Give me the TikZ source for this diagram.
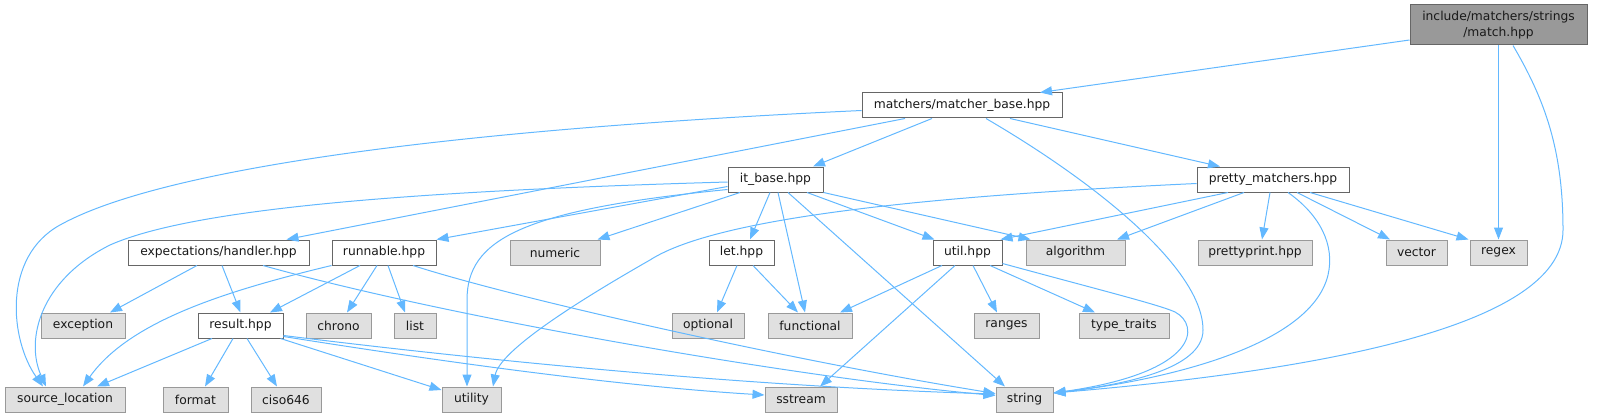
\documentclass[tikz,border=0pt]{standalone}
\usepackage{fontspec}
\setmainfont{DejaVu Sans}
\usetikzlibrary{arrows.meta,calc}
\definecolor{edgeblue}{HTML}{63B8FF}
\definecolor{nodeborder}{HTML}{666666}
\definecolor{sysborder}{HTML}{999999}
\definecolor{sysfill}{HTML}{E0E0E0}
\definecolor{mainfill}{HTML}{999999}
\begin{document}
\begin{tikzpicture}[x=1pt,y=-1pt,
  base/.style={rectangle, minimum height=25pt, inner sep=0pt, font=\fontsize{12.3}{16}\selectfont, line width=1pt, text=black!90},
  loc/.style={base, draw=nodeborder, fill=white},
  sys/.style={base, draw=sysborder, fill=sysfill},
  mainnode/.style={base, draw=nodeborder, fill=mainfill, minimum height=40pt, align=center},
  dep/.style={draw=edgeblue, line width=1pt, -{Triangle[length=12pt,width=9pt]}}]
\path[use as bounding box] (0,0) rectangle (1611,417);
% nodes
\node[mainnode, minimum width=177pt] (match) at (1498.5,25) {include/matchers/strings\\/match.hpp};
\node[loc, minimum width=200pt] (mb) at (962,105.5) {matchers/matcher\_base.hpp};
\node[loc, minimum width=95pt] (itb) at (775.5,179.5) {it\_base.hpp};
\node[loc, minimum width=152pt] (pm) at (1273,179.5) {pretty\_matchers.hpp};
\node[loc, minimum width=181pt] (handler) at (218.5,252.5) {expectations/handler.hpp};
\node[loc, minimum width=104pt] (runnable) at (384,252.5) {runnable.hpp};
\node[sys, minimum width=90pt] (numeric) at (555,252.5) {numeric};
\node[loc, minimum width=65pt] (let) at (741.5,252.5) {let.hpp};
\node[loc, minimum width=69pt] (util) at (967.5,252.5) {util.hpp};
\node[sys, minimum width=99pt] (algorithm) at (1075.5,252.5) {algorithm};
\node[sys, minimum width=114pt] (prettyprint) at (1255,252.5) {prettyprint.hpp};
\node[sys, minimum width=61pt] (vector) at (1416.5,252.5) {vector};
\node[sys, minimum width=57pt] (regex) at (1498.5,252.5) {regex};
\node[sys, minimum width=84pt] (exception) at (83,325.5) {exception};
\node[loc, minimum width=85pt] (result) at (240.5,325.5) {result.hpp};
\node[sys, minimum width=65pt] (chrono) at (338.5,325.5) {chrono};
\node[sys, minimum width=42pt] (list) at (415,325.5) {list};
\node[sys, minimum width=72pt] (optional) at (708,325.5) {optional};
\node[sys, minimum width=84pt] (functional) at (810,325.5) {functional};
\node[sys, minimum width=65pt] (ranges) at (1006.5,325.5) {ranges};
\node[sys, minimum width=90pt] (typetraits) at (1124,325.5) {type\_traits};
\node[sys, minimum width=120pt] (srcloc) at (65,399.5) {source\_location};
\node[sys, minimum width=65pt] (format) at (195.5,399.5) {format};
\node[sys, minimum width=70pt] (ciso) at (286,399.5) {ciso646};
\node[sys, minimum width=59pt] (utility) at (471.5,399.5) {utility};
\node[sys, minimum width=72pt] (sstream) at (801,399.5) {sstream};
\node[sys, minimum width=57pt] (string) at (1024.5,399.5) {string};
% edges from match
\draw[dep] ([yshift=-15pt]match.west) -- ([xshift=78pt]mb.north);
\draw[dep] (match.south) -- (regex.north);
\draw[dep] ([xshift=14.5pt]match.south) .. controls (1545,100) and (1563,150) .. (1563,230) .. controls (1563,330) and (1300,372) .. ([yshift=6.5pt]string.east);
% edges from matcher_base
\draw[dep] ([yshift=-5pt]mb.west) .. controls (400,132) and (150,175) .. (60,225) .. controls (2,257) and (10,340) .. ([xshift=-22pt]srcloc.north);
\draw[dep] ([xshift=-57pt]mb.south) -- ([xshift=68pt]handler.north);
\draw[dep] ([xshift=-30pt]mb.south) -- ([xshift=37.5pt]itb.north);
\draw[dep] ([xshift=24pt]mb.south) .. controls (1100,185) and (1203,270) .. (1203,330) .. controls (1203,370) and (1120,385) .. ([yshift=6.5pt]string.east);
\draw[dep] ([xshift=48pt]mb.south) -- ([xshift=-53pt]pm.north);
% edges from it_base
\draw[dep] ([yshift=-2.5pt]itb.west) .. controls (450,190) and (200,205) .. (110,245) .. controls (40,280) and (25,340) .. ([xshift=-19pt]srcloc.north);
\draw[dep] ([yshift=-7pt]itb.west) -- (runnable.north east);
\draw[dep] ([yshift=-10pt]itb.west) .. controls (520,210) and (467,240) .. (467,300) -- ([xshift=-4.5pt]utility.north);
\draw[dep] ([xshift=-35.5pt]itb.south) -- ([xshift=-3pt]numeric.north east);
\draw[dep] ([xshift=-5.5pt]itb.south) -- ([xshift=8.5pt]let.north);
\draw[dep] ([xshift=2.5pt]itb.south) -- ([xshift=-5pt]functional.north);
\draw[dep] ([xshift=12.5pt]itb.south) -- ([xshift=-19.5pt]string.north);
\draw[dep] ([xshift=31.5pt]itb.south) -- ([xshift=2pt]util.north west);
\draw[dep] (itb.south east) -- ([xshift=5pt]algorithm.north west);
% edges from pretty_matchers
\draw[dep] ([xshift=-45pt]pm.south) -- ([xshift=-2pt]util.north east);
\draw[dep] ([xshift=-29pt]pm.south) -- ([xshift=41.5pt]algorithm.north);
\draw[dep] ([xshift=-3pt]pm.south) -- ([xshift=7pt]prettyprint.north);
\draw[dep] ([xshift=15pt]pm.south) .. controls (1320,215) and (1335,245) .. (1328,275) .. controls (1310,350) and (1150,382) .. ([yshift=6.5pt]string.east);
\draw[dep] ([xshift=24pt]pm.south) -- ([xshift=-26.5pt]vector.north);
\draw[dep] ([xshift=37pt]pm.south) -- ([xshift=-30pt]regex.north);
\draw[dep] ([yshift=-4pt]pm.west) .. controls (950,195) and (720,215) .. (650,260) .. controls (580,300) and (500,350) .. ([xshift=21.5pt]utility.north);
% edges from handler
\draw[dep] ([xshift=-21.5pt]handler.south) -- ([xshift=27pt]exception.north);
\draw[dep] ([xshift=3.5pt]handler.south) -- (result.north);
\draw[dep] ([xshift=44.5pt]handler.south) .. controls (450,318) and (800,378) .. ([yshift=4pt]string.west);
% edges from runnable
\draw[dep] (runnable.south west) .. controls (230,290) and (130,320) .. ([xshift=18pt]srcloc.north);
\draw[dep] ([xshift=-24pt]runnable.south) -- ([xshift=29.5pt]result.north);
\draw[dep] ([xshift=-7pt]runnable.south) -- ([xshift=8.5pt]chrono.north);
\draw[dep] ([xshift=4pt]runnable.south) -- ([xshift=-10pt]list.north);
\draw[dep] ([xshift=29pt]runnable.south) .. controls (520,300) and (800,362) .. ([yshift=6pt]string.west);
% edges from let
\draw[dep] ([xshift=-4.5pt]let.south) -- ([xshift=9pt]optional.north);
\draw[dep] ([xshift=11.5pt]let.south) -- ([xshift=-12pt]functional.north);
% edges from util
\draw[dep] ([xshift=-25.5pt]util.south) -- ([xshift=30pt]functional.north);
\draw[dep] ([xshift=-12.5pt]util.south) -- ([xshift=19pt]sstream.north);
\draw[dep] ([xshift=5.5pt]util.south) -- ([xshift=-9.5pt]ranges.north);
\draw[dep] ([xshift=22.5pt]util.south) -- ([xshift=-29pt]typetraits.north);
\draw[dep] ([yshift=-11pt]util.east) .. controls (1100,290) and (1160,305) .. (1175,312) .. controls (1200,325) and (1200,372) .. ([yshift=6.5pt]string.east);
% edges from result
\draw[dep] ([xshift=-28.5pt]result.south) -- ([xshift=32pt]srcloc.north);
\draw[dep] ([xshift=-7.5pt]result.south) -- ([xshift=9.5pt]format.north);
\draw[dep] ([xshift=6.5pt]result.south) -- ([xshift=-9pt]ciso.north);
\draw[dep] ([xshift=-3pt]result.south east) -- ([yshift=9.5pt]utility.west);
\draw[dep] ([yshift=-11pt]result.east) .. controls (400,355) and (600,385) .. ([yshift=4.5pt]sstream.west);
\draw[dep] ([yshift=-10pt]result.east) .. controls (400,350) and (700,385) .. ([yshift=5.5pt]string.west);
\end{tikzpicture}
\end{document}
